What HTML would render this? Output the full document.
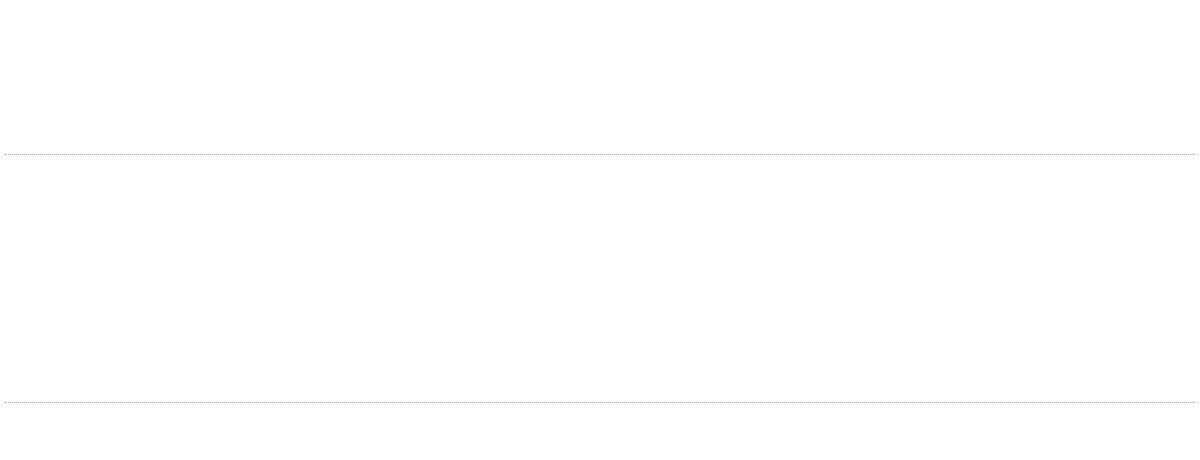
<!DOCTYPE html>
<html>
<head>
<meta charset="utf-8">
<style>
html,body{margin:0;padding:0;background:#fff;width:1200px;height:460px;overflow:hidden;position:relative;}
.l{position:absolute;left:4px;width:1191px;height:0;border-top:1px dotted #9a9a9a;}
</style>
</head>
<body>
<div class="l" style="top:154px"></div>
<div class="l" style="top:402px"></div>
</body>
</html>
